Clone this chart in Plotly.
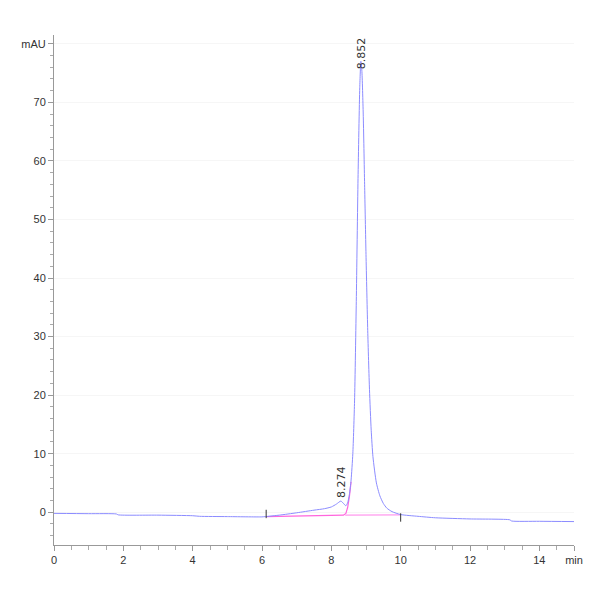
import plotly.graph_objects as go

# signal (time in min, absorbance in mAU)
time_min = [0.0, 1.0, 1.8, 1.85, 3.0, 4.0, 4.2, 5.0, 6.0, 6.1, 6.5, 7.0, 7.5, 7.8, 8.0,
            8.15, 8.274, 8.35, 8.42, 8.47, 8.52, 8.57, 8.62, 8.67, 8.72, 8.77, 8.82,
            8.852, 8.88, 8.92, 8.96, 9.0, 9.05, 9.1, 9.15, 9.2, 9.3, 9.4, 9.5, 9.6,
            9.75, 10.0, 10.5, 11.0, 12.0, 13.15, 13.2, 14.0, 15.0]
signal_mau = [-0.2, -0.25, -0.3, -0.45, -0.5, -0.6, -0.7, -0.75, -0.8, -0.75, -0.5,
              -0.1, 0.35, 0.6, 0.9, 1.4, 1.9, 1.5, 1.1, 1.6, 3.0, 5.5, 10, 19, 36,
              57, 72.5, 77, 75.5, 68, 56, 44, 31, 21, 14, 9.5, 5, 2.8, 1.5, 0.7, 0.1,
              -0.4, -0.7, -0.95, -1.15, -1.3, -1.5, -1.55, -1.6]

# integration baselines (pink)
base1_time = [6.12, 7.0, 8.0, 8.35, 8.42, 8.47, 8.52, 8.57]
base1_mau = [-0.75, -0.7, -0.6, -0.5, -0.2, 0.8, 2.6, 5.2]
base2_time = [8.4, 10.0]
base2_mau = [-0.5, -0.45]

# integration event marks
event_time = [6.12, 10.0]
event_mau = [-0.3, -0.9]

peak_rt = [8.274, 8.852]
peak_height = [1.9, 77]
peak_labels = ["8.274", "8.852"]

x_ticks = [0, 2, 4, 6, 8, 10, 12, 14, 15]
x_ticktext = ["0", "2", "4", "6", "8", "10", "12", "14", "min"]
y_ticks = [0, 10, 20, 30, 40, 50, 60, 70, 80]
y_ticktext = ["0", "10", "20", "30", "40", "50", "60", "70", "mAU"]

font = "Liberation Sans Narrow, Liberation Sans, Arial"

fig = go.Figure()
fig.add_trace(go.Scatter(x=base1_time, y=base1_mau, mode="lines",
                         line=dict(color="#ff66dd", width=1.2), hoverinfo="skip"))
fig.add_trace(go.Scatter(x=base2_time, y=base2_mau, mode="lines",
                         line=dict(color="#ff99ee", width=1.2), hoverinfo="skip"))
fig.add_trace(go.Scatter(x=time_min, y=signal_mau, mode="lines",
                         line=dict(color="#8c8cff", width=1, shape="spline", smoothing=0.6)))
fig.add_trace(go.Scatter(x=event_time, y=event_mau, mode="markers",
                         marker=dict(symbol="line-ns", size=6,
                                     line=dict(color="#333333", width=1))))

for rt, h, lab, shift in zip(peak_rt, peak_height, peak_labels, [1, -10]):
    fig.add_annotation(x=rt, y=h, text=lab, textangle=-90, showarrow=False,
                       xanchor="center", yanchor="bottom", yshift=shift,
                       font=dict(family="DejaVu Sans", size=11, color="#333333"))

# the page adds an 8px body margin, so the margins are trimmed by that much
fig.update_layout(
    width=600, height=600,
    margin=dict(l=46, r=34, t=27, b=63),
    plot_bgcolor="white", paper_bgcolor="white",
    showlegend=False,
    font=dict(family=font, size=11, color="#333333"),
)
fig.update_xaxes(range=[0, 15], tickvals=x_ticks, ticktext=x_ticktext,
                 automargin=False,
                 showline=True, linecolor="#999999", linewidth=1,
                 ticks="outside", ticklen=5, tickcolor="#999999",
                 showgrid=False, zeroline=False,
                 minor=dict(dtick=0.5, ticks="outside", ticklen=4, tickcolor="#aaaaaa",
                            showgrid=False))
fig.update_yaxes(range=[-5.6, 81.5], tickvals=y_ticks, ticktext=y_ticktext,
                 automargin=False,
                 showline=True, linecolor="#999999", linewidth=1,
                 ticks="outside", ticklen=5, tickcolor="#999999",
                 showgrid=True, gridcolor="#f6f6f6", zeroline=False,
                 minor=dict(dtick=2, ticks="outside", ticklen=3, tickcolor="#aaaaaa",
                            showgrid=False))

fig.write_html("out.html")
